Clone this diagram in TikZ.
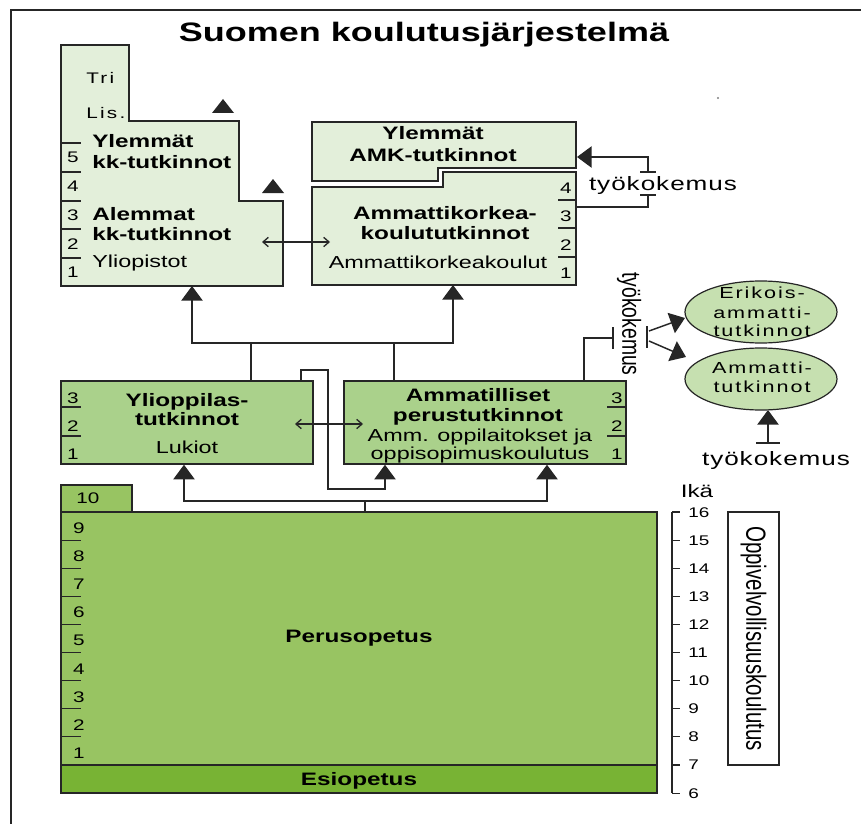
\documentclass[tikz,border=0pt]{standalone}
\usepackage{fontspec}
\setmainfont{Liberation Sans}[FakeStretch=1.35]
\newfontfamily\plainfont{Liberation Sans}
\usetikzlibrary{arrows.meta,shapes.geometric,fit}
\definecolor{linec}{HTML}{262626}
\definecolor{topfill}{HTML}{E3EFDA}
\definecolor{midfill}{HTML}{AAD18B}
\definecolor{perfill}{HTML}{98C462}
\definecolor{esifill}{HTML}{78B334}
\definecolor{ellfill}{HTML}{C6E0B0}
\begin{document}
\begin{tikzpicture}[x=0.75pt,y=-0.75pt,
  box/.style={draw=linec,line width=1.1pt},
  rbox/.style={box,inner sep=0pt},
  conn/.style={draw=linec,line width=1.1pt},
  tickl/.style={draw=linec,line width=0.9pt},
  bigtip/.style={-{Triangle[length=11pt,width=16pt]}},
  dbl/.style={{Straight Barb[length=4pt,width=7pt]}-{Straight Barb[length=4pt,width=7pt]}},
  lbl/.style={inner sep=0pt,font=\fontsize{13.5}{16}\selectfont\bfseries,text height=9.7pt,text depth=0pt},
  nrm/.style={inner sep=0pt,font=\fontsize{13}{16}\selectfont,text height=9.3pt,text depth=0pt},
  num/.style={inner sep=0pt,font=\fontsize{11.5}{14}\selectfont,text height=8.2pt,text depth=0pt},
  agen/.style={inner sep=0pt,anchor=west,font=\fontsize{10.5}{12}\selectfont,text height=7.5pt,text depth=0pt},
  tinyt/.style={inner sep=0pt,anchor=west,font=\fontsize{11.5}{13}\selectfont\addfontfeatures{LetterSpace=15},text height=8.2pt,text depth=0pt},
  elt/.style={inner sep=0pt,font=\fontsize{12}{14}\selectfont\addfontfeatures{LetterSpace=12},text height=8.6pt,text depth=0pt},
  wk/.style={inner sep=0pt,font=\fontsize{14.5}{16}\selectfont\addfontfeatures{LetterSpace=5},text height=10.6pt,text depth=0pt},
  ell/.style={ellipse,draw=linec,line width=0.9pt,fill=ellfill,minimum width=114pt,minimum height=46.5pt,inner sep=0pt},
]
\useasboundingbox (0,0) rectangle (861,824);
\fill[white] (0,0) rectangle (861,824);
\draw[linec,line width=1.5pt] (11,830) -- (11,10) -- (870,10);
\fill[gray] (718,98) circle (0.8pt);

% title
\node[inner sep=0pt,anchor=base,font=\fontsize{20}{24}\selectfont\bfseries] (title) at (424,42) {Suomen koulutusjärjestelmä};

% ---------- University block ----------
\draw[box,fill=topfill] (61,45) -- (129,45) -- (129,121) -- (239,121) -- (239,201) -- (283,201) -- (283,286) -- (61,286) -- cycle;
\coordinate (uni-b) at (192,286);
\foreach \y in {143,172,201,229,258} \draw[tickl] (61,\y) -- (81,\y);
\foreach \n/\y in {5/157,4/186,3/215,2/244,1/272} \node[num] (u\n) at (73,\y) {\n};
\node[tinyt] (tri) at (86,78) {Tri};
\node[tinyt] (lis) at (86,113) {Lis.};
\node[lbl,anchor=west] (yl1) at (92,141) {Ylemmät};
\node[lbl,anchor=west] (yl2) at (92,162) {kk-tutkinnot};
\node[lbl,anchor=west] (al1) at (92,214) {Alemmat};
\node[lbl,anchor=west] (al2) at (92,234) {kk-tutkinnot};
\node[nrm,anchor=west] (ylio) at (92,261) {Yliopistot};
\fill[linec] (212,113) -- (234,113) -- (223,99) -- cycle;
\fill[linec] (262,193) -- (284,193) -- (273,179) -- cycle;

% ---------- AMK blocks ----------
\draw[box,fill=topfill] (312,122) -- (576,122) -- (576,168) -- (438,168) -- (438,181) -- (312,181) -- cycle;
\draw[box,fill=topfill] (312,187) -- (443,187) -- (443,172) -- (576,172) -- (576,285) -- (312,285) -- cycle;
\coordinate (amk-b) at (453,285);
\coordinate (amk-r) at (576,207);
\coordinate (yamk-r) at (577,157);
\node[lbl] (ya1) at (433,133) {Ylemmät};
\node[lbl] (ya2) at (433,155) {AMK-tutkinnot};
\foreach \y in {200,228,257} \draw[tickl] (558,\y) -- (576,\y);
\foreach \n/\y in {4/188,3/216,2/245,1/273} \node[num] (a\n) at (566,\y) {\n};
\node[lbl] (am1) at (445,213) {Ammattikorkea-};
\node[lbl] (am2) at (445,233) {koulututkinnot};
\node[nrm] (am3) at (438,262) {Ammattikorkeakoulut};

\draw[conn,line width=1pt,dbl] (262,242) -- (330,242);

% työkokemus loop AMK
\coordinate (wa) at (648,195);
\coordinate (wb) at (648,172);
\draw[conn] (amk-r) -| (wa);
\draw[conn] (640,195) -- (656,195);
\draw[conn] (640,172) -- (656,172);
\node[wk] (wk1) at (663,183) {työkokemus};
\draw[conn,bigtip] (wb) |- (yamk-r);

% ---------- middle row ----------
\node[rbox,fill=midfill,fit={(61,381) (313,464)}] (luk) {};
\node[rbox,fill=midfill,fit={(344,381) (626,464)}] (amm) {};
\foreach \y in {407,436} \draw[tickl] (61,\y) -- (81,\y);
\foreach \n/\y in {3/398,2/426,1/454} \node[num] (l\n) at (73,\y) {\n};
\foreach \y in {407,436} \draw[tickl] (607,\y) -- (626,\y);
\foreach \n/\y in {3/398,2/426,1/454} \node[num] (m\n) at (617,\y) {\n};
\node[lbl] (lk1) at (187,400) {Ylioppilas-};
\node[lbl] (lk2) at (187,419) {tutkinnot};
\node[nrm] (lk3) at (187,447) {Lukiot};
\node[lbl] (ap1) at (478,395) {Ammatilliset};
\node[lbl] (ap2) at (478,415) {perustutkinnot};
\node[nrm] (ap3) at (480,435) {Amm. oppilaitokset ja};
\node[nrm] (ap4) at (480,453) {oppisopimuskoulutus};

\draw[conn,line width=1pt,dbl] (295,424) -- (363,424);

% tree up to higher education
\coordinate (tl) at (251,343);
\draw[conn] (luk.north -| 251,0) -- (tl);
\draw[conn] (amm.north -| 394,0) -- (394,343);
\draw[conn,bigtip] (tl) -| (uni-b);
\draw[conn,bigtip] (tl) -| (amk-b);

% loop from Lukiot to Ammatilliset
\draw[conn,bigtip] (luk.north -| 301,0) |- (328,370) -- (328,489) -| (amm.south -| 385,0);

% ---------- Perusopetus ----------
\node[rbox,fill=perfill,fit={(61,485) (132,512)}] (ten) {};
\node[num] (n10) at (88,498) {10};
\node[rbox,fill=perfill,fit={(61,512) (657,765)}] (per) {};
\node[rbox,fill=esifill,fit={(61,765) (657,793)}] (esi) {};
\foreach \k in {1,...,8} \draw[tickl] (61,512+28.11*\k) -- (81,512+28.11*\k);
\foreach \n in {1,...,9} \node[num] (p\n) at (79,{512+28.11*(9-\n)+16}) {\n};
\node[lbl] (perus) at (359,636) {Perusopetus};
\node[lbl] (esio) at (359,779) {Esiopetus};

% bottom tree
\coordinate (bt) at (365,501);
\draw[conn] (per.north -| 365,0) -- (bt);
\draw[conn,bigtip] (bt) -| (luk.south -| 184,0);
\draw[conn,bigtip] (bt) -| (amm.south -| 547,0);

% ---------- hook to ellipses ----------
\node[ell] (eri) at (761,312) {};
\node[ell] (amt) at (761,379) {};
\node[elt] (e1) at (762,293) {Erikois-};
\node[elt] (e2) at (762,313) {ammatti-};
\node[elt] (e3) at (762,331) {tutkinnot};
\node[elt] (e4) at (762,368) {Ammatti-};
\node[elt] (e5) at (762,387) {tutkinnot};

\coordinate (hk) at (613,338);
\draw[conn] (amm.north -| 584,0) |- (hk);
\draw[conn] (613,327) -- (613,349);
\node[inner sep=0pt,rotate=-90,font=\plainfont\fontsize{14.5}{16}\selectfont] (wk2) at (629,324) {\scalebox{1}[1.35]{työkokemus}};
\draw[conn] (647,326) -- (647,348);
\draw[conn,bigtip] (649,331) -- (685,318);
\draw[conn,bigtip] (649,341) -- (686,357);

\coordinate (wc) at (768,443);
\draw[conn] (756,443) -- (780,443);
\draw[conn,bigtip] (wc) -- (768,410);
\node[wk] (wk3) at (776,458) {työkokemus};

% ---------- age scale ----------
\draw[conn,line width=1pt] (672,512) -- (672,793);
\foreach \k in {0,...,10} \draw[tickl] (672,512+28.11*\k) -- (680,512+28.11*\k);
\foreach \a in {6,...,16} \node[agen] (age\a) at (688,{512+28.11*(16-\a)}) {\a};
\node[inner sep=0pt,font=\fontsize{13.5}{16}\selectfont,text height=9.7pt,text depth=0pt] (ika) at (697,491) {Ikä};
\node[draw=linec,line width=1pt,inner sep=0pt,fit={(728,512) (779,765)}] (opp) {};
\node[inner sep=0pt,rotate=-90,font=\plainfont\fontsize{15.4}{17}\selectfont] (oppt) at (opp.center) {\scalebox{1}[1.35]{Oppivelvollisuuskoulutus}};
\end{tikzpicture}
\end{document}
